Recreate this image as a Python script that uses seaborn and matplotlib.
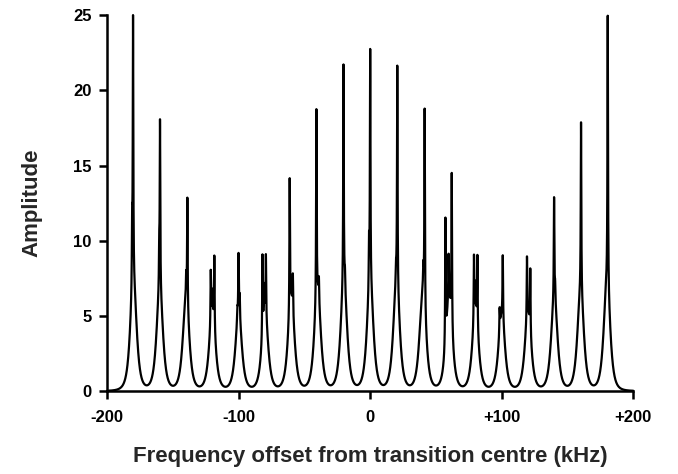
import numpy as np
import pandas as pd
import matplotlib.pyplot as plt
import seaborn as sns

sns.set_theme(style="ticks")
plt.rcParams["font.family"] = ["Liberation Sans", "DejaVu Sans"]
plt.rcParams["font.weight"] = "bold"

# line clusters every 20 kHz: centre and height of the broad pedestal
cluster_centre = [-180, -160, -140, -120, -100, -80, -60, -40, -20, 0,
                  20, 40, 60, 80, 100, 120, 140, 160, 180]
pedestal_amp = [7.0, 6.5, 6.0, 5.0, 5.0, 5.0, 6.0, 6.5, 7.0, 7.0,
                7.0, 6.5, 6.0, 5.0, 5.0, 5.0, 6.0, 6.5, 7.0]
pedestal_width = 4.4

# narrow spikes on top of the pedestals (position in kHz, extra amplitude)
spike_pos = [-180.3, -181.0, -159.8, -160.4, -139.0, -139.9,
             -121.2, -118.5, -120.0, -100.1, -99.2, -101.0,
             -81.9, -79.3, -80.6, -61.2, -58.8, -40.9, -39.0,
             -20.3, -19.2, 0.0, -0.9, 20.6, 19.6, 41.4, 40.4,
             62.0, 57.2, 59.6, 78.9, 81.5, 80.2, 100.8, 98.4,
             119.2, 121.7, 139.8, 140.6, 160.3, 180.6]
spike_amp = [17.6, 4.0, 11.2, 2.5, 7.3, 1.5,
             3.6, 4.9, 1.5, 4.0, 1.5, 0.8,
             5.4, 4.2, 2.0, 8.9, 2.5, 12.7, 1.5,
             14.7, 1.0, 15.5, 3.0, 14.8, 1.0, 13.3, 1.5,
             10.3, 8.4, 3.0, 4.5, 4.9, 2.0, 4.3, 1.6,
             4.2, 4.3, 6.8, 1.0, 11.4, 18.2]
spike_width = 0.25

freq = np.linspace(-200, 200, 8001)
amp = np.zeros_like(freq)
for c, a in zip(cluster_centre, pedestal_amp):
    amp += a / (1 + ((freq - c) / pedestal_width) ** 2) ** 2
for p, a in zip(spike_pos, spike_amp):
    amp += a / (1 + ((freq - p) / spike_width) ** 2)

df = pd.DataFrame({"freq": freq, "amp": amp})

fig = plt.figure(figsize=(6.78, 4.74), dpi=100)
ax = fig.add_axes([0.158, 0.175, 0.776, 0.793])
sns.lineplot(data=df, x="freq", y="amp", color="black", linewidth=1.6, ax=ax)
for l in ax.lines:
    l.set_clip_on(False)

ax.set_xlim(-200, 200)
ax.set_ylim(0, 25)
ax.set_xticks([-200, -100, 0, 100, 200])
ax.set_xticklabels(["-200", "-100", "0", "+100", "+200"])
ax.set_yticks([0, 5, 10, 15, 20, 25])
sns.despine(ax=ax)
for s in ["left", "bottom"]:
    ax.spines[s].set_linewidth(1.8)
    ax.spines[s].set_color("black")
ax.tick_params(axis="both", direction="out", length=6, width=1.8,
               labelsize=12, colors="black")
ax.tick_params(axis="x", pad=8)
ax.tick_params(axis="y", pad=5)
for t in ax.get_xticklabels() + ax.get_yticklabels():
    t.set_fontweight("bold")

ax.set_xlabel("Frequency offset from transition centre (kHz)",
              fontsize=16, fontweight="bold", labelpad=15)
ax.set_ylabel("Amplitude", fontsize=16, fontweight="bold", labelpad=22)

fig.savefig("out.png", dpi=100)
